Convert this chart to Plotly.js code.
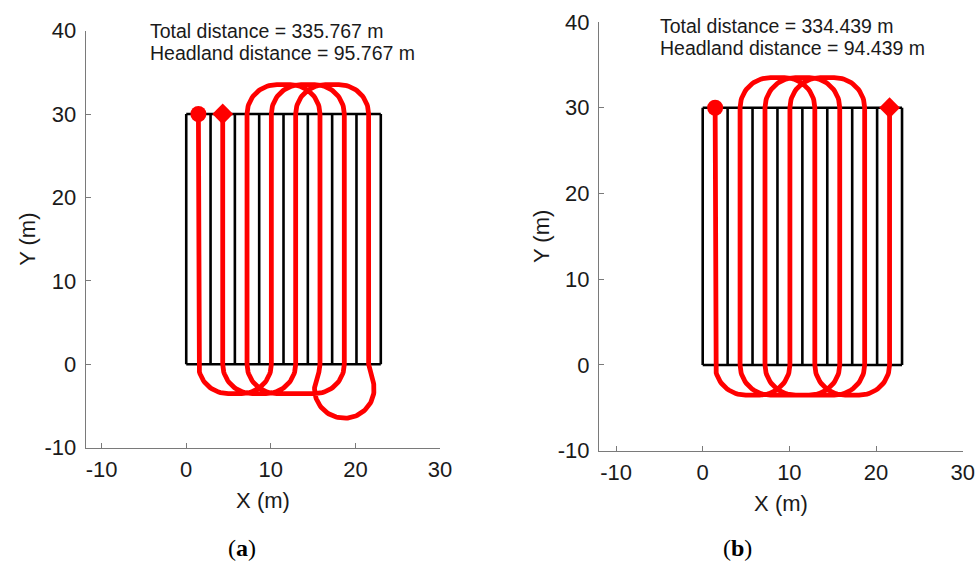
<!DOCTYPE html>
<html>
<head>
<meta charset="utf-8">
<script src="https://cdn.plot.ly/plotly-3.0.1.min.js"></script>
<style>html,body{margin:0;padding:0;background:#fff;} #chart{width:978px;height:563px;}</style>
</head>
<body>
<div id="chart"></div>
<script>
// ---- data ----
const fieldWidth = 23;          // m (x extent of the field)
const fieldLength = 30;         // m (y extent of the field)
const swathCount = 8;           // number of working tracks
const turnRadius = 3.52;        // m, minimum turning radius
const trackOrderA = [1, 4, 7, 3, 6, 8, 5, 2];   // visiting order, panel (a)
const trackOrderB = [1, 4, 7, 3, 6, 2, 5, 8];   // visiting order, panel (b)
const totalDistance = ["335.767", "334.439"];
const headlandDistance = ["95.767", "94.439"];
const panelLabels = ["a", "b"];
const xTickVals = [-10, 0, 10, 20, 30];
const xTickText = ["-10", "0", "10", "20", "30"];
const yTickVals = [-10, 0, 10, 20, 30, 40];
const yTickText = ["-10", "0", "10", "20", "30", "40"];
const xRangeA = [-11.85, 30], xRangeB = [-11.93, 30];
const yRange = [-10, 40];

const swath = fieldWidth / swathCount;
const trackX = i => (i - 0.5) * swath;

// field grid (black)
function fieldLines() {
  const x = [], y = [];
  for (let k = 0; k <= swathCount; k++) { x.push(k * swath, k * swath, null); y.push(0, fieldLength, null); }
  x.push(0, fieldWidth, null, 0, fieldWidth); y.push(0, 0, null, fieldLength, fieldLength);
  return {x, y};
}

// headland turn between two tracks
function turn(a, b, y0, s, r, px, py) {
  const w = Math.abs(b - a), d = Math.sign(b - a), n = 24;
  if (w >= 2 * r) {
    const c1 = a + d * r, c2 = b - d * r;
    for (let i = 1; i <= n; i++) { const t = i / n * Math.PI / 2; px.push(c1 - d * r * Math.cos(t)); py.push(y0 + s * r * Math.sin(t)); }
    for (let i = 0; i <= n; i++) { const t = i / n * Math.PI / 2; px.push(c2 + d * r * Math.sin(t)); py.push(y0 + s * r * Math.cos(t)); }
  } else {
    const th = Math.acos((w / 2 + r) / (2 * r));
    const h = Math.sqrt(4 * r * r - (w / 2 + r) * (w / 2 + r));
    const c1 = a - d * r, c3 = b + d * r, m = (a + b) / 2, c2y = y0 + s * h;
    for (let i = 1; i <= n; i++) { const f = i / n * th; px.push(c1 + d * r * Math.cos(f)); py.push(y0 + s * r * Math.sin(f)); }
    const m2 = 3 * n;
    for (let i = 0; i <= m2; i++) { const p = th - i / m2 * (Math.PI + 2 * th); px.push(m - d * r * Math.cos(p)); py.push(c2y - s * r * Math.sin(p)); }
    for (let i = 0; i <= n; i++) { const f = th - i / n * th; px.push(c3 - d * r * Math.cos(f)); py.push(y0 + s * r * Math.sin(f)); }
  }
}

function buildPath(order) {
  const px = [], py = [];
  order.forEach((t, k) => {
    const x = trackX(t), down = k % 2 === 0;
    if (down) { px.push(x, x); py.push(fieldLength, 0); }
    else { px.push(x, x); py.push(0, fieldLength); }
    if (k < order.length - 1) {
      const xn = trackX(order[k + 1]);
      if (down) turn(x, xn, 0, -1, turnRadius, px, py);
      else turn(x, xn, fieldLength, 1, turnRadius, px, py);
    }
  });
  return {px, py};
}

const grid = fieldLines();
const traces = [];
[trackOrderA, trackOrderB].forEach((order, idx) => {
  const xa = idx === 0 ? 'x' : 'x2', ya = idx === 0 ? 'y' : 'y2';
  const p = buildPath(order);
  traces.push({type: 'scatter', mode: 'lines', x: grid.x, y: grid.y, xaxis: xa, yaxis: ya,
    line: {color: '#000', width: 2.6}, hoverinfo: 'skip', connectgaps: false});
  traces.push({type: 'scatter', mode: 'lines', x: p.px, y: p.py, xaxis: xa, yaxis: ya,
    line: {color: '#ff0000', width: 4.8}, hoverinfo: 'skip'});
  traces.push({type: 'scatter', mode: 'markers', x: [trackX(order[0])], y: [fieldLength], xaxis: xa, yaxis: ya,
    marker: {symbol: 'circle', size: 16, color: '#ff0000'}});
  traces.push({type: 'scatter', mode: 'markers', x: [trackX(order[order.length - 1])], y: [fieldLength], xaxis: xa, yaxis: ya,
    marker: {symbol: 'diamond', size: 16, color: '#ff0000'}});
});

const axisFont = {family: 'Liberation Sans, Arial, sans-serif', size: 22, color: '#1a1a1a'};
const titleFont = {family: 'Liberation Sans, Arial, sans-serif', size: 22, color: '#1a1a1a'};
function xAxis(domain, range, anchor) {
  return {domain, range, anchor, tickvals: xTickVals, ticktext: xTickText, ticks: 'inside', ticklen: 5, tickcolor: '#7a7a7a',
    showline: true, linecolor: '#7a7a7a', linewidth: 1.4, showgrid: false, zeroline: false,
    tickfont: axisFont, ticklabelstandoff: 1,
    title: {text: 'X (m)', font: titleFont, standoff: 12}};
}
function yAxis(domain, anchor, standoff) {
  return {domain, range: yRange, anchor, tickvals: yTickVals, ticktext: yTickText, ticks: 'inside', ticklen: 5, tickcolor: '#7a7a7a',
    showline: true, linecolor: '#7a7a7a', linewidth: 1.4, showgrid: false, zeroline: false,
    tickfont: axisFont, ticklabelstandoff: 4,
    title: {text: 'Y (m)', font: titleFont, standoff: standoff}};
}

const annFont = {family: 'Liberation Sans, Arial, sans-serif', size: 19.5, color: '#1a1a1a'};
const W = 978, H = 563;
const annotations = [];
[[148, 31, 53], [658, 26, 48]].forEach((pos, i) => {
  annotations.push({xref: 'paper', yref: 'paper', x: pos[0] / W, y: 1 - pos[1] / H, xanchor: 'left', yanchor: 'middle',
    text: 'Total distance = ' + totalDistance[i] + ' m', showarrow: false, font: annFont});
  annotations.push({xref: 'paper', yref: 'paper', x: pos[0] / W, y: 1 - pos[2] / H, xanchor: 'left', yanchor: 'middle',
    text: 'Headland distance = ' + headlandDistance[i] + ' m', showarrow: false, font: annFont});
});
[[242, 548], [737, 548]].forEach((pos, i) => {
  annotations.push({xref: 'paper', yref: 'paper', x: pos[0] / W, y: 1 - pos[1] / H, xanchor: 'center', yanchor: 'middle',
    text: '(<b>' + panelLabels[i] + '</b>)', showarrow: false,
    font: {family: 'Liberation Serif, Times New Roman, serif', size: 24, color: '#000'}});
});

const layout = {
  width: W, height: H, margin: {l: 0, r: 0, t: 0, b: 0},
  paper_bgcolor: '#fff', plot_bgcolor: '#fff', showlegend: false,
  xaxis: xAxis([86 / W, 440 / W], xRangeA, 'y'),
  yaxis: yAxis([1 - 447.7 / H, 1 - 30.6 / H], 'x', 2),
  xaxis2: xAxis([599.3 / W, 962.7 / W], xRangeB, 'y2'),
  yaxis2: yAxis([1 - 450.7 / H, 1 - 22 / H], 'x2', 2),
  annotations
};
Plotly.newPlot('chart', traces, layout, {staticPlot: true, displayModeBar: false});
</script>
</body>
</html>
